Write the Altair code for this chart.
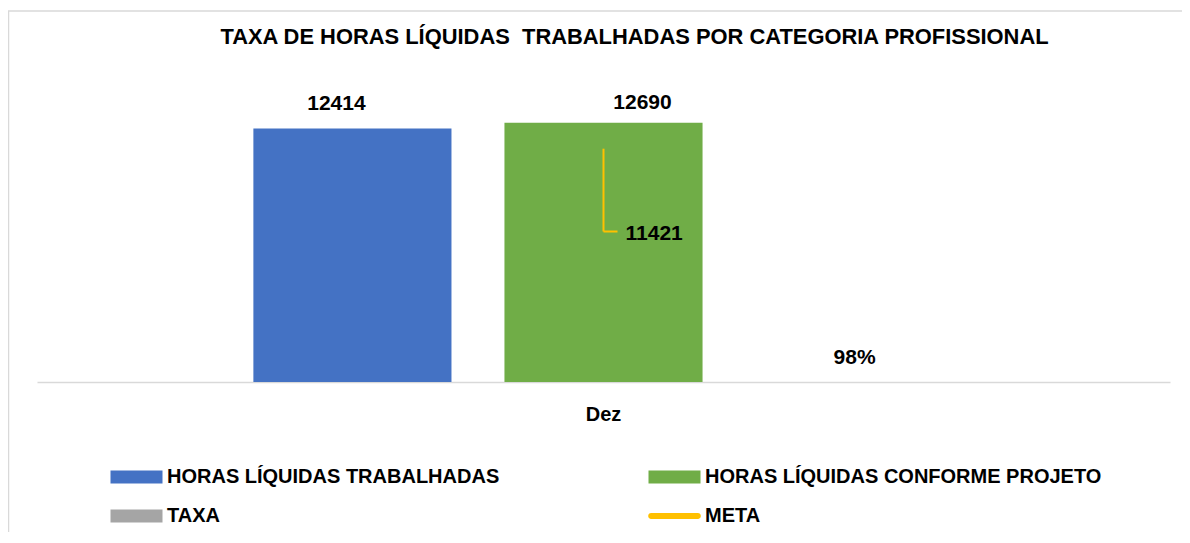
import altair as alt
import pandas as pd

# ---- data ----
categories = ["Dez"]
series = [
    "HORAS LÍQUIDAS TRABALHADAS",
    "HORAS LÍQUIDAS CONFORME PROJETO",
    "TAXA",
    "META",
]
bar_series = series[:3]
bar_values = [12414, 12690, 0.98]
bar_labels = ["12414", "12690", "98%"]
meta_values = [11421]
meta_labels = ["11421"]
colors = ["#4472C4", "#70AD47", "#A5A5A5", "#FFC000"]
title_text = "TAXA DE HORAS LÍQUIDAS \u00a0TRABALHADAS POR CATEGORIA PROFISSIONAL"

bars_df = pd.DataFrame({
    "cat": categories * len(bar_series),
    "serie": bar_series,
    "valor": bar_values,
    "rotulo": bar_labels,
})
meta_df = pd.DataFrame({
    "cat": categories,
    "serie": ["META"],
    "valor": meta_values,
    "rotulo": meta_labels,
})
legend_df = pd.DataFrame({
    "cat": categories * len(series),
    "serie": series,
    "valor": [0] * len(series),
})
frame_df = pd.DataFrame({"k": [0]})

FONT = "Liberation Sans"

x_enc = alt.X("cat:N", title=None,
              scale=alt.Scale(paddingOuter=0.309, paddingInner=0),
              axis=alt.Axis(labelAngle=0, ticks=False, labelFontSize=20,
                            labelFontWeight="bold", labelColor="#000000",
                            labelPadding=22, domainColor="#D9D9D9",
                            domainWidth=1.5, grid=False))
y_enc = alt.Y("valor:Q", axis=None, scale=alt.Scale(domain=[0, 14000]))
xoff = alt.XOffset("serie:N", scale=alt.Scale(domain=bar_series, paddingInner=0.211, paddingOuter=0))

rect_path = "M-4,-1H4V1H-4Z"
line_path = "M-3.6,-0.45H3.6A0.45,0.45 0 0 1 3.6,0.45H-3.6A0.45,0.45 0 0 1 -3.6,-0.45Z"

legend = alt.Legend(
    title=None, orient="none", legendX=89.5, legendY=371,
    direction="horizontal",
    columns=2, columnPadding=148, rowPadding=19,
    symbolSize=169, symbolStrokeWidth=0,
    labelOffset=20.5, labelFontSize=20, labelFontWeight="bold",
    labelColor="#000000", labelLimit=800, padding=0,
    symbolOpacity=1,
)
color_scale = alt.Scale(domain=series, range=colors)

bars = alt.Chart(bars_df).mark_bar().encode(
    x=x_enc, xOffset=xoff, y=y_enc,
    color=alt.Color("serie:N", scale=color_scale, legend=legend),
)

legend_pts = alt.Chart(legend_df).mark_point(filled=True, opacity=0).encode(
    x=alt.X("cat:N"), y=alt.Y("valor:Q"),
    color=alt.Color("serie:N", scale=color_scale, legend=legend),
    shape=alt.Shape("serie:N", scale=alt.Scale(domain=series,
                    range=[rect_path, rect_path, rect_path, line_path]), legend=legend),
)

def bar_label(serie, dx, dy):
    return alt.Chart(bars_df).transform_filter(
        alt.datum.serie == serie
    ).mark_text(
        font=FONT, fontSize=21, fontWeight="bold", color="#000000",
        baseline="alphabetic", dx=dx, dy=dy,
    ).encode(x=alt.X("cat:N"), xOffset=xoff, y=alt.Y("valor:Q"), text="rotulo:N")

lab1 = bar_label(bar_series[0], -16, -18)
lab2 = bar_label(bar_series[1], 39, -14)
lab3 = bar_label(bar_series[2], 0, -18)

leader_v = alt.Chart(meta_df).mark_rule(color="#FFC000", strokeWidth=2).encode(
    x=alt.X("cat:N"), y=alt.Y("valor:Q"), y2=alt.value(135.5),
)
leader_h = alt.Chart(meta_df).mark_rule(color="#FFC000", strokeWidth=2, x2Offset=14).encode(
    x=alt.X("cat:N"), x2=alt.X2("cat:N"), y=alt.value(135.5),
)
meta_text = alt.Chart(meta_df).mark_text(
    font=FONT, fontSize=21, fontWeight="bold", color="#000000",
    align="left", baseline="middle", dx=22,
).encode(x=alt.X("cat:N"), y=alt.value(138), text="rotulo:N")

frame_top = alt.Chart(frame_df).mark_rule(color="#D9D9D9", strokeWidth=1.5).encode(
    x=alt.value(-29), x2=alt.value(1160), y=alt.value(-85),
)
frame_left = alt.Chart(frame_df).mark_rule(color="#D9D9D9", strokeWidth=1.5).encode(
    x=alt.value(-28.5), y=alt.value(-85), y2=alt.value(440),
)

chart = alt.layer(
    frame_top, frame_left, bars, legend_pts, lab1, lab2, lab3,
    leader_v, leader_h, meta_text,
).properties(
    width=1133, height=286,
    title=alt.TitleParams(title_text, font=FONT, fontSize=21.9, fontWeight="bold",
                          color="#000000", baseline="alphabetic", offset=-55.5,
                          dx=31, anchor="middle"),
    autosize=alt.AutoSizeParams(type="none"),
    padding={"left": 29, "top": 88, "right": 12, "bottom": 150},
).configure(font=FONT, view=alt.ViewConfig(stroke="transparent", strokeWidth=0))

chart.save("out.html", embed_options={"renderer": "svg", "actions": False})
